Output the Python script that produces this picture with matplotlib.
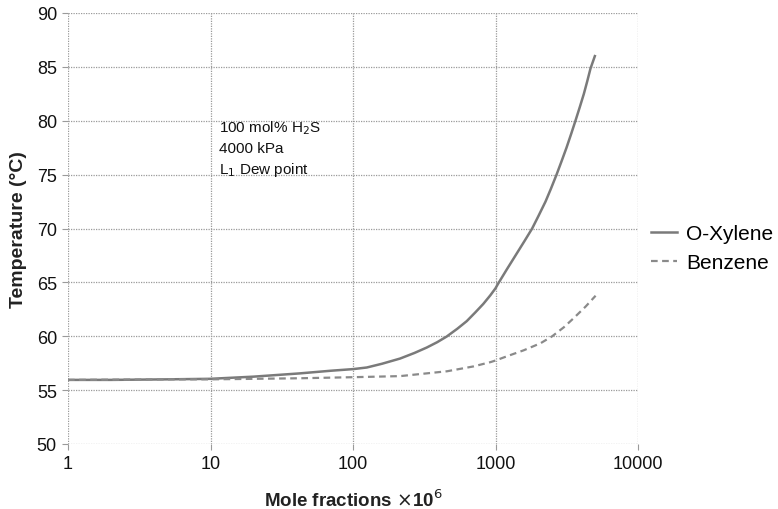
import matplotlib
matplotlib.use("Agg")
import matplotlib.pyplot as plt
from matplotlib.ticker import FixedLocator, FixedFormatter, NullLocator

plt.rcParams['font.family'] = ['Liberation Sans', 'DejaVu Sans']

# Data
xylene_x = [1, 2, 5, 10, 20, 42, 70, 100, 125, 160, 214, 270, 329, 390, 454, 540,
            628, 720, 821, 920, 1000, 1040, 1200, 1382, 1600, 1808, 2000, 2244,
            2450, 2682, 2900, 3150, 3400, 3640, 3900, 4170, 4400, 4642, 4980]
xylene_y = [55.95, 55.95, 56.0, 56.05, 56.25, 56.55, 56.8, 56.95, 57.1, 57.45, 57.93,
            58.45, 58.95, 59.45, 59.97, 60.7, 61.4, 62.2, 63.0, 63.8, 64.45, 64.85,
            66.2, 67.5, 68.85, 70.0, 71.15, 72.5, 73.7, 75.0, 76.2, 77.5, 78.8, 80.0,
            81.25, 82.5, 83.65, 84.85, 86.0]
benzene_x = [1, 5, 10, 42, 100, 214, 457, 700, 923, 1000, 1208, 1580, 2070, 2500,
             3015, 3550, 4285, 5040]
benzene_y = [55.95, 56.0, 56.0, 56.1, 56.2, 56.3, 56.75, 57.2, 57.6, 57.75, 58.15,
             58.7, 59.35, 60.0, 60.83, 61.7, 62.75, 63.76]

x_ticks = [1, 10, 100, 1000, 10000]
x_tick_labels = ["1", "10", "100", "1000", "10000"]
y_ticks = [50, 55, 60, 65, 70, 75, 80, 85, 90]

fig = plt.figure(figsize=(7.78, 5.10), dpi=100)
ax = fig.add_axes([68/778, 1-445/510, (638-68)/778, (445-14)/510])

ax.plot(xylene_x, xylene_y, color="#7a7a7a", lw=1.8, label="O-Xylene")
ax.plot(benzene_x, benzene_y, color="#8a8a8a", lw=1.6, ls=(0, (3, 2)), label="Benzene")

ax.set_xscale("log")
ax.set_xlim(1, 10000)
ax.set_ylim(50, 90)
ax.xaxis.set_major_locator(FixedLocator(x_ticks))
ax.xaxis.set_major_formatter(FixedFormatter(x_tick_labels))
ax.xaxis.set_minor_locator(NullLocator())
ax.set_yticks(y_ticks)

for s in ax.spines.values():
    s.set_visible(False)
ax.grid(True, color="#9a9a9a", ls=(0, (1, 1)), lw=0.9)
ax.set_axisbelow(True)
ax.tick_params(axis="both", length=4, width=0.8, color="#9a9a9a", labelsize=13,
               labelcolor="#111111", pad=4)

ax.set_xlabel(r"Mole fractions $\times$10$^{6}$", fontsize=13.5, fontweight="bold",
              color="#222222", labelpad=12)
ax.set_ylabel("Temperature (°C)", fontsize=14, fontweight="bold", color="#222222",
              labelpad=7)

ax.text(0.265, 0.755, "100 mol% H$_2$S\n4000 kPa\nL$_1$ Dew point",
        transform=ax.transAxes, fontsize=11, va="top", ha="left",
        color="#111111", linespacing=1.4)

ax.legend(loc="center left", bbox_to_anchor=(651/778, 1-249/510),
          bbox_transform=fig.transFigure, frameon=False, fontsize=15,
          handlelength=1.25, handletextpad=0.45, labelspacing=0.5,
          borderaxespad=0, borderpad=0)

fig.savefig("out.png", dpi=100)
